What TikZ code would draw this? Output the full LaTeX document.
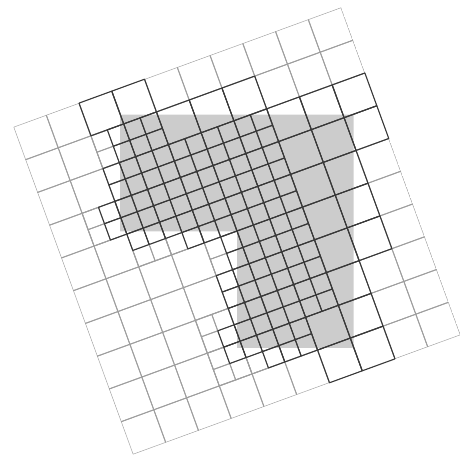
\documentclass[tikz,border=0pt]{standalone}
\tikzset{
  graywire/.style={draw=black!38,line width=0.9pt,line join=round},
  darkwire/.style={draw=black!78,line width=1.05pt,line join=round},
  lattice/.style={x={(32.75pt,11.95pt)},y={(11.95pt,-32.75pt)},shift={(13.5pt,330pt)}}
}
\newcommand{\squarecell}[4]{\draw[#1] (#2,#3) -- ++(#4,0) -- ++(0,#4) -- ++(-#4,0) -- cycle;}
\begin{document}
\begin{tikzpicture}[x=1pt,y=1pt]
\useasboundingbox (0,0) rectangle (464,457);
\fill[black!20] (120,342.3) -- (353.7,342.3) -- (353.7,109) -- (237,109) -- (237,225.5) -- (120,225.5) -- cycle;
\begin{scope}[lattice]
  \begin{scope}
    \clip (0,0) -- (10,0) -- (10,10) -- (0,10) -- cycle;
    \foreach \i in {0,...,9} \foreach \j in {0,...,9} {\squarecell{graywire}{\i}{\j}{1}}
    % refined cells that stay inactive
    \foreach \i/\j in {1/3,1/3.5,2/1,2/1.5,2/4.5,2.5/4.5,3/4.5,4/5,4/5.5,
                       3/7,3/7.5,3.5/7,3/8,3/8.5,3.5/8.5,4/8.5}
      {\squarecell{graywire}{\i}{\j}{0.5}}
  \end{scope}
  % active coarse cells
  \foreach \i/\j in {2/0,3/0,4/1,5/1,6/1,7/2,8/2,9/2,7/3,8/3,9/3,7/4,8/4,7/5,8/5,
                     7/6,8/6,7/7,6/8,7/8,6/9,7/9}
    {\squarecell{darkwire}{\i}{\j}{1}}
  % active fine cells: row, first column, number of cells
  \foreach \j/\a/\n in {1/2.5/3,1.5/2.5/3,2/2/10,2.5/2/10,3/1.5/11,3.5/1.5/11,4/2/10,
                        4.5/3.5/7,5/4.5/5,5.5/4.5/5,6/4/6,6.5/4/6,7/4/6,7.5/3.5/7,
                        8/3.5/5,8.5/4.5/3}
    \foreach \k in {1,...,\n} {
      \pgfmathsetmacro{\cx}{\a+(\k-1)*0.5}
      \squarecell{darkwire}{\cx}{\j}{0.5}
    }
\end{scope}
\end{tikzpicture}
\end{document}
